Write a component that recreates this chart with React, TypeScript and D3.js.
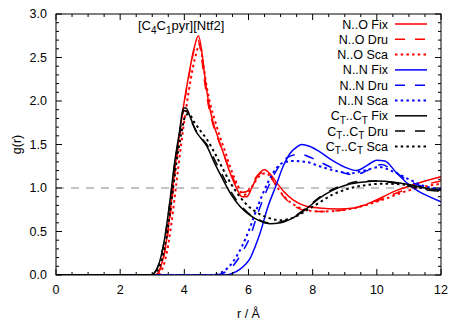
import React from "react";
import * as d3 from "d3";

// g(r) curves, [r (Å), g(r)]
const noFix: [number, number][] = [
  [0, 0], [3.1, 0], [3.25, 0.08], [3.4, 0.3], [3.55, 0.7], [3.7, 1.2], [3.85, 1.62], [4.0, 2.0],
  [4.15, 2.32], [4.3, 2.6], [4.44, 2.75], [4.55, 2.55], [4.65, 2.25], [4.75, 2.0], [4.9, 1.75],
  [5.05, 1.58], [5.2, 1.42], [5.4, 1.2], [5.6, 1.02], [5.8, 0.9], [5.95, 0.9], [6.1, 1.0],
  [6.3, 1.15], [6.5, 1.21], [6.7, 1.15], [6.9, 1.05], [7.1, 0.96], [7.4, 0.86], [7.8, 0.79],
  [8.2, 0.77], [8.8, 0.76], [9.3, 0.77], [9.8, 0.83], [10.2, 0.9], [10.6, 0.97], [11, 1.02],
  [11.5, 1.08], [12, 1.13],
];
const noDru: [number, number][] = [
  [0, 0], [3.1, 0], [3.25, 0.07], [3.4, 0.28], [3.55, 0.65], [3.7, 1.15], [3.85, 1.6], [4.0, 1.98],
  [4.15, 2.3], [4.3, 2.58], [4.42, 2.7], [4.52, 2.55], [4.62, 2.25], [4.75, 1.95], [4.9, 1.72],
  [5.05, 1.56], [5.2, 1.42], [5.4, 1.22], [5.6, 1.05], [5.8, 0.95], [5.95, 0.96], [6.1, 1.05],
  [6.3, 1.15], [6.5, 1.18], [6.7, 1.12], [6.9, 1.0], [7.1, 0.9], [7.4, 0.8], [7.8, 0.74],
  [8.2, 0.73], [8.8, 0.74], [9.3, 0.77], [9.8, 0.83], [10.2, 0.88], [10.6, 0.94], [11, 0.99],
  [11.5, 1.04], [12, 1.08],
];
const noSca: [number, number][] = [
  [0, 0], [3.15, 0], [3.3, 0.06], [3.45, 0.25], [3.6, 0.6], [3.75, 1.05], [3.9, 1.5], [4.05, 1.9],
  [4.2, 2.25], [4.35, 2.52], [4.48, 2.65], [4.58, 2.45], [4.68, 2.2], [4.8, 1.98], [4.95, 1.78],
  [5.1, 1.6], [5.25, 1.44], [5.45, 1.22], [5.65, 1.04], [5.85, 0.92], [6.0, 0.95], [6.15, 1.04],
  [6.35, 1.14], [6.55, 1.17], [6.75, 1.1], [6.95, 0.98], [7.2, 0.87], [7.5, 0.79], [7.9, 0.74],
  [8.3, 0.73], [8.8, 0.74], [9.3, 0.77], [9.8, 0.82], [10.3, 0.88], [10.8, 0.95], [11.4, 1.01],
  [12, 1.05],
];
const nnFix: [number, number][] = [
  [0, 0], [5.3, 0], [5.5, 0.02], [5.75, 0.07], [5.9, 0.12], [6.05, 0.19], [6.2, 0.32], [6.36, 0.48],
  [6.6, 0.78], [6.85, 1.02], [7.08, 1.25], [7.3, 1.4], [7.5, 1.47], [7.66, 1.5], [7.9, 1.48],
  [8.2, 1.42], [8.6, 1.32], [9.0, 1.24], [9.37, 1.2], [9.7, 1.26], [10.0, 1.32], [10.25, 1.31],
  [10.6, 1.18], [10.93, 1.06], [11.3, 0.96], [11.7, 0.89], [12, 0.84],
];
const nnDru: [number, number][] = [
  [0, 0], [4.95, 0], [5.2, 0.02], [5.45, 0.08], [5.65, 0.17], [5.85, 0.29], [6.05, 0.44], [6.3, 0.72],
  [6.6, 1.0], [6.9, 1.22], [7.2, 1.35], [7.6, 1.39], [8.0, 1.34], [8.5, 1.25], [9.0, 1.17],
  [9.3, 1.15], [9.7, 1.2], [10.15, 1.27], [10.5, 1.2], [11.0, 1.08], [11.5, 1.01], [12, 0.98],
];
const nnSca: [number, number][] = [
  [0, 0], [4.85, 0], [5.1, 0.02], [5.35, 0.08], [5.55, 0.17], [5.8, 0.33], [6.0, 0.5], [6.3, 0.8],
  [6.6, 1.06], [6.9, 1.24], [7.15, 1.3], [7.4, 1.31], [7.8, 1.3], [8.3, 1.24], [8.8, 1.19],
  [9.2, 1.17], [9.6, 1.2], [10.1, 1.24], [10.5, 1.19], [11.0, 1.1], [11.5, 1.02], [12, 0.99],
];
const ccFix: [number, number][] = [
  [0, 0], [2.95, 0], [3.1, 0.04], [3.25, 0.18], [3.4, 0.45], [3.55, 0.85], [3.7, 1.3], [3.85, 1.65],
  [3.97, 1.92], [4.05, 1.92], [4.2, 1.8], [4.35, 1.66], [4.5, 1.58], [4.7, 1.48], [4.95, 1.28],
  [5.2, 1.1], [5.45, 0.93], [5.73, 0.79], [6.0, 0.7], [6.3, 0.63], [6.65, 0.59], [7.0, 0.6],
  [7.4, 0.66], [7.8, 0.76], [8.2, 0.88], [8.6, 0.97], [9.1, 1.04], [9.6, 1.07], [10.0, 1.08],
  [10.5, 1.07], [11.0, 1.04], [11.5, 1.0], [12, 0.97],
];
const ccDru: [number, number][] = [
  [0, 0], [2.95, 0], [3.1, 0.04], [3.25, 0.18], [3.4, 0.44], [3.55, 0.83], [3.7, 1.27], [3.85, 1.62],
  [3.98, 1.89], [4.07, 1.88], [4.2, 1.78], [4.35, 1.67], [4.5, 1.59], [4.7, 1.5], [4.95, 1.32],
  [5.2, 1.14], [5.45, 0.96], [5.73, 0.81], [6.0, 0.71], [6.3, 0.64], [6.6, 0.6], [7.0, 0.61],
  [7.4, 0.67], [7.8, 0.77], [8.2, 0.89], [8.6, 0.98], [9.1, 1.05], [9.6, 1.08], [10.0, 1.08],
  [10.5, 1.06], [11.0, 1.02], [11.5, 0.98], [12, 0.96],
];
const ccSca: [number, number][] = [
  [0, 0], [3.0, 0], [3.15, 0.04], [3.3, 0.18], [3.45, 0.45], [3.6, 0.85], [3.75, 1.28], [3.9, 1.62],
  [4.05, 1.84], [4.15, 1.85], [4.3, 1.76], [4.5, 1.66], [4.7, 1.56], [4.95, 1.4], [5.2, 1.22],
  [5.45, 1.05], [5.73, 0.9], [6.0, 0.79], [6.3, 0.71], [6.6, 0.66], [7.0, 0.63], [7.4, 0.66],
  [7.8, 0.74], [8.2, 0.83], [8.6, 0.92], [9.1, 0.99], [9.6, 1.03], [10.2, 1.05], [10.8, 1.04],
  [11.4, 1.0], [12, 0.96],
];

const xTicks = [0, 2, 4, 6, 8, 10, 12];
const yTicks = [0, 0.5, 1, 1.5, 2, 2.5, 3];

const series = [
  { pair: "N..O", kind: "Fix", color: "#ff0000", data: noFix },
  { pair: "N..O", kind: "Dru", color: "#ff0000", data: noDru },
  { pair: "N..O", kind: "Sca", color: "#ff0000", data: noSca },
  { pair: "N..N", kind: "Fix", color: "#0000ff", data: nnFix },
  { pair: "N..N", kind: "Dru", color: "#0000ff", data: nnDru },
  { pair: "N..N", kind: "Sca", color: "#0000ff", data: nnSca },
  { pair: "CT", kind: "Fix", color: "#000000", data: ccFix },
  { pair: "CT", kind: "Dru", color: "#000000", data: ccDru },
  { pair: "CT", kind: "Sca", color: "#000000", data: ccSca },
];

const dashFor = (kind: string) => (kind === "Dru" ? "10,10" : kind === "Sca" ? "2.5,3.2" : undefined);
const widthFor = (kind: string) => (kind === "Sca" ? 2 : 1.5);

const font = "'Liberation Sans', Arial, Helvetica, sans-serif";

export default function App() {
  const width = 463,
    height = 324;
  const left = 56,
    right = 441,
    top = 14,
    bottom = 275;

  const x = d3.scaleLinear().domain([0, 12]).range([left, right]);
  const y = d3.scaleLinear().domain([0, 3]).range([bottom, top]);

  const line = d3
    .line<[number, number]>()
    .x((d) => x(d[0]))
    .y((d) => y(d[1]))
    .curve(d3.curveMonotoneX);

  const xMinor = d3.range(0, 12.01, 0.5);
  const yMinor = d3.range(0, 3.001, 0.1);

  // legend label, with subscripts for C_T
  const label = (pair: string, kind: string) => {
    if (pair === "CT") {
      return (
        <>
          C<tspan dy={3.5} fontSize={10}>T</tspan>
          <tspan dy={-3.5}>..C</tspan>
          <tspan dy={3.5} fontSize={10}>T</tspan>
          <tspan dy={-3.5}>{" " + kind}</tspan>
        </>
      );
    }
    return pair + " " + kind;
  };

  return (
    <svg width={width} height={height} style={{ position: "absolute", left: 0, top: 0, background: "#fff" }}>
      <defs>
        <clipPath id="plot">
          <rect x={left} y={top} width={right - left} height={bottom - top} />
        </clipPath>
      </defs>

      {/* reference line at g = 1 */}
      <line x1={left} x2={right} y1={y(1)} y2={y(1)} stroke="#888" strokeWidth={1} strokeDasharray="8,7" />

      <g clipPath="url(#plot)">
        {series.map((s, i) => (
          <path
            key={i}
            d={line(s.data) || ""}
            fill="none"
            stroke={s.color}
            strokeWidth={widthFor(s.kind)}
            strokeDasharray={dashFor(s.kind)}
          />
        ))}
      </g>

      {/* frame and ticks, mirrored on all sides */}
      <rect x={left} y={top} width={right - left} height={bottom - top} fill="none" stroke="#000" strokeWidth={1} />
      <g stroke="#000" strokeWidth={1}>
        {xMinor.map((v, i) => {
          const len = xTicks.includes(v) ? 6 : 3;
          return (
            <g key={"xt" + i}>
              <line x1={x(v)} x2={x(v)} y1={bottom} y2={bottom - len} />
              <line x1={x(v)} x2={x(v)} y1={top} y2={top + len} />
            </g>
          );
        })}
        {yMinor.map((v, i) => {
          const major = Math.abs(v * 2 - Math.round(v * 2)) < 1e-6;
          const len = major ? 6 : 3;
          return (
            <g key={"yt" + i}>
              <line x1={left} x2={left + len} y1={y(v)} y2={y(v)} />
              <line x1={right} x2={right - len} y1={y(v)} y2={y(v)} />
            </g>
          );
        })}
      </g>

      <g fontFamily={font} fontSize={12.5} fill="#000">
        {xTicks.map((v) => (
          <text key={"xl" + v} x={x(v)} y={bottom + 19} textAnchor="middle">
            {v}
          </text>
        ))}
        {yTicks.map((v) => (
          <text key={"yl" + v} x={left - 9} y={y(v) + 4} textAnchor="end">
            {d3.format(".1f")(v)}
          </text>
        ))}
        <text x={(left + right) / 2} y={318} textAnchor="middle">
          r / Å
        </text>
        <text transform={`translate(21,${(top + bottom) / 2}) rotate(-90)`} textAnchor="middle">
          g(r)
        </text>

        {/* title */}
        <text x={138} y={30} fontSize={13}>
          [C<tspan dy={3.5} fontSize={10}>4</tspan>
          <tspan dy={-3.5}>C</tspan>
          <tspan dy={3.5} fontSize={10}>1</tspan>
          <tspan dy={-3.5}>pyr][Ntf2]</tspan>
        </text>

        {/* legend */}
        {series.map((s, i) => {
          const cy = 24 + i * 15.3;
          return (
            <g key={"lg" + i}>
              <text x={388} y={cy + 4.5} textAnchor="end">
                {label(s.pair, s.kind)}
              </text>
              <line
                x1={395}
                x2={427}
                y1={cy}
                y2={cy}
                stroke={s.color}
                strokeWidth={widthFor(s.kind)}
                strokeDasharray={dashFor(s.kind)}
              />
            </g>
          );
        })}
      </g>
    </svg>
  );
}
